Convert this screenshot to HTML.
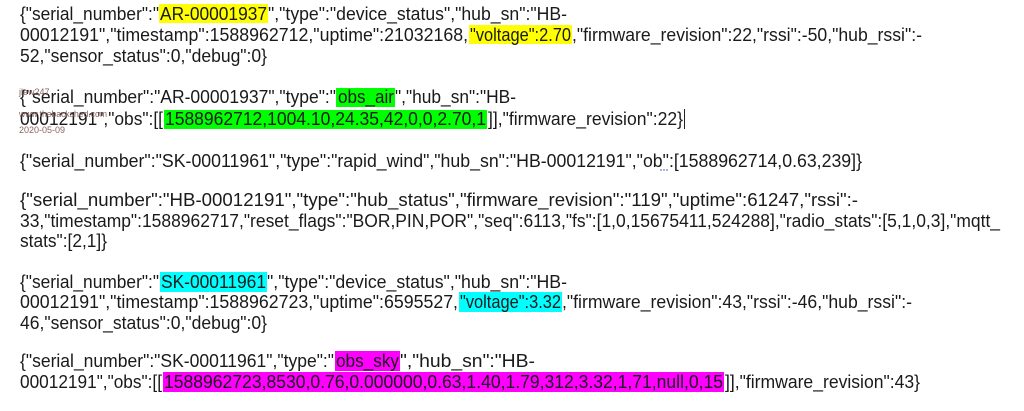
<!DOCTYPE html>
<html><head><meta charset="utf-8"><style>
html,body{margin:0;padding:0;background:#fff;width:1024px;height:411px;overflow:hidden}
svg{display:block}
text{font-family:"Liberation Sans",Arial,sans-serif;font-size:18px;fill:#1a1a1a}
.w{font-size:9px;fill:#8a6464}
</style></head><body>
<svg width="1024" height="411" viewBox="0 0 1024 411" xmlns="http://www.w3.org/2000/svg">
<g>
<rect x="159" y="4" width="109" height="19" fill="#ffff00"/>
<rect x="469" y="25" width="103" height="19" fill="#ffff00"/>
<rect x="336" y="88" width="59" height="19" fill="#00ff00"/>
<rect x="164" y="110" width="323" height="19" fill="#00ff00"/>
<rect x="160" y="272" width="107" height="20" fill="#00ffff"/>
<rect x="459" y="292" width="103" height="20" fill="#00ffff"/>
<rect x="335" y="351" width="65" height="20" fill="#ff00ff"/>
<rect x="163" y="372" width="561" height="20" fill="#ff00ff"/>
</g>
<text x="20" y="20" textLength="139" lengthAdjust="spacingAndGlyphs">{"serial_number":"</text>
<text x="160" y="20" textLength="107" lengthAdjust="spacingAndGlyphs">AR-00001937</text>
<text x="268" y="20" textLength="299" lengthAdjust="spacingAndGlyphs">","type":"device_status","hub_sn":"HB-</text>

<text x="20" y="41" textLength="448" lengthAdjust="spacingAndGlyphs">00012191","timestamp":1588962712,"uptime":21032168,</text>
<text x="470" y="41" textLength="101" lengthAdjust="spacingAndGlyphs">"voltage":2.70</text>
<text x="572" y="41" textLength="350" lengthAdjust="spacingAndGlyphs">,"firmware_revision":22,"rssi":-50,"hub_rssi":-</text>

<text x="20" y="62" textLength="247" lengthAdjust="spacingAndGlyphs">52,"sensor_status":0,"debug":0}</text>

<text x="20" y="103" textLength="316" lengthAdjust="spacingAndGlyphs">{"serial_number":"AR-00001937","type":"</text>
<text x="338" y="103" textLength="56" lengthAdjust="spacingAndGlyphs">obs_air</text>
<text x="395" y="103" textLength="121" lengthAdjust="spacingAndGlyphs">","hub_sn":"HB-</text>

<text x="20" y="125" textLength="143" lengthAdjust="spacingAndGlyphs">00012191","obs":[[</text>
<text x="165" y="125" textLength="321" lengthAdjust="spacingAndGlyphs">1588962712,1004.10,24.35,42,0,0,2.70,1</text>
<text x="488" y="125" textLength="195" lengthAdjust="spacingAndGlyphs">]],"firmware_revision":22}</text>
<line x1="684.5" y1="109" x2="684.5" y2="129" stroke="#222" stroke-width="1"/>

<text class="w" x="19" y="95">jlew247</text>
<text class="w" x="19" y="117" textLength="88" lengthAdjust="spacingAndGlyphs">www.thebackshed.com</text>
<text class="w" x="19" y="133">2020-05-09</text>

<text x="20" y="167" textLength="842" lengthAdjust="spacingAndGlyphs">{"serial_number":"SK-00011961","type":"rapid_wind","hub_sn":"HB-00012191","ob":[1588962714,0.63,239]}</text>
<line x1="660" y1="170" x2="669" y2="170" stroke="#6a86c8" stroke-width="1.2" stroke-dasharray="2,1"/>

<text x="20" y="206" textLength="838" lengthAdjust="spacingAndGlyphs">{"serial_number":"HB-00012191","type":"hub_status","firmware_revision":"119","uptime":61247,"rssi":-</text>
<text x="20" y="227" textLength="980" lengthAdjust="spacingAndGlyphs">33,"timestamp":1588962717,"reset_flags":"BOR,PIN,POR","seq":6113,"fs":[1,0,15675411,524288],"radio_stats":[5,1,0,3],"mqtt_</text>
<text x="20" y="247" textLength="87" lengthAdjust="spacingAndGlyphs">stats":[2,1]}</text>

<text x="20" y="288" textLength="139" lengthAdjust="spacingAndGlyphs">{"serial_number":"</text>
<text x="161" y="288" textLength="105" lengthAdjust="spacingAndGlyphs">SK-00011961</text>
<text x="267" y="288" textLength="300" lengthAdjust="spacingAndGlyphs">","type":"device_status","hub_sn":"HB-</text>

<text x="20" y="308" textLength="438" lengthAdjust="spacingAndGlyphs">00012191","timestamp":1588962723,"uptime":6595527,</text>
<text x="460" y="308" textLength="101" lengthAdjust="spacingAndGlyphs">"voltage":3.32</text>
<text x="562" y="308" textLength="350" lengthAdjust="spacingAndGlyphs">,"firmware_revision":43,"rssi":-46,"hub_rssi":-</text>

<text x="20" y="329" textLength="247" lengthAdjust="spacingAndGlyphs">46,"sensor_status":0,"debug":0}</text>

<text x="20" y="367" textLength="314" lengthAdjust="spacingAndGlyphs">{"serial_number":"SK-00011961","type":"</text>
<text x="336" y="367" textLength="63" lengthAdjust="spacingAndGlyphs">obs_sky</text>
<text x="400" y="367" textLength="135" lengthAdjust="spacingAndGlyphs">","hub_sn":"HB-</text>

<text x="20" y="388" textLength="142" lengthAdjust="spacingAndGlyphs">00012191","obs":[[</text>
<text x="164" y="388" textLength="559" lengthAdjust="spacingAndGlyphs">1588962723,8530,0.76,0.000000,0.63,1.40,1.79,312,3.32,1,71,null,0,15</text>
<text x="725" y="388" textLength="195" lengthAdjust="spacingAndGlyphs">]],"firmware_revision":43}</text>
</svg>
</body></html>
